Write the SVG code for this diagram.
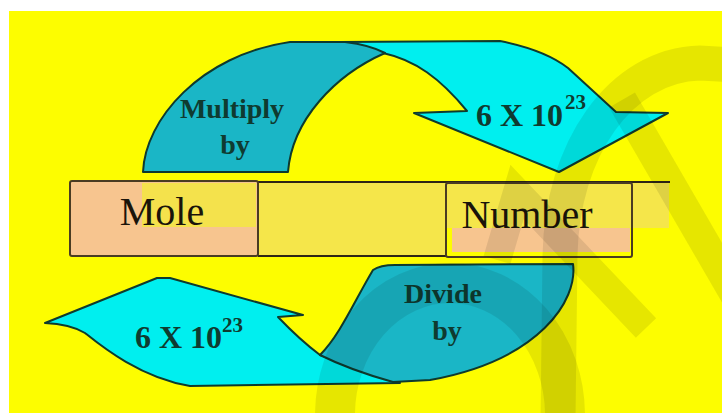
<svg xmlns="http://www.w3.org/2000/svg" width="722" height="413" viewBox="0 0 722 413">
<style>
.lbl{font-family:"Liberation Serif","Times New Roman",serif;font-weight:bold;fill:#0f3b30;}
.box{font-family:"Liberation Serif","Times New Roman",serif;fill:#1a140a;font-size:40px;}
.edge{stroke:#0e3a2e;stroke-width:2;stroke-linejoin:round;}
.wm{fill:none;stroke:#000;stroke-opacity:0.09;}
.line{stroke:#2e2616;stroke-width:2;}
</style>
<rect width="722" height="413" fill="#ffffff"/>
<rect x="9" y="11" width="713" height="402" fill="#fdfd00"/>
<!-- band -->
<rect x="70" y="182" width="380" height="74" fill="#f5e64a"/>
<rect x="446" y="182" width="223" height="46" fill="#f5e64a"/>
<line class="line" x1="258" y1="182" x2="670" y2="182"/>
<line class="line" x1="258" y1="256" x2="446" y2="256"/>
<g id="mole">
<rect x="70" y="181" width="188" height="75" rx="2" fill="#f7c58f"/>
<rect x="142" y="183" width="114" height="44" fill="#f4e24c"/>
<rect x="70" y="181" width="188" height="75" rx="2" fill="none" stroke="#4a3c22" stroke-width="2"/>
<text class="box" x="162" y="225" text-anchor="middle">Mole</text>
</g>
<g id="number">
<rect x="447" y="228" width="184" height="28" fill="#fdfd00"/>
<rect x="452" y="228" width="178" height="24" fill="#f7c58f"/>
<rect x="446" y="183" width="186" height="74" rx="2" fill="none" stroke="#4a3c22" stroke-width="2"/>
<text class="box" x="527" y="228" text-anchor="middle">Number</text>
</g>
<g id="connectors">
<g id="multiply-arrow">
<path class="edge" fill="#00efef" d="M340,42 L500,41 Q545,50 568,68 L616,112 L668,113 L559,172 L414,113 L467,111 C440,78 415,60 383,53 Z"/>
<path class="edge" fill="#1ab6c6" d="M143,172 C145,120 200,55 290,42 L345,42 Q370,45 385,53 C335,75 292,120 288,172 Z"/>
<text class="lbl" x="232" y="118" font-size="28" text-anchor="middle">Multiply</text>
<text class="lbl" x="235" y="154" font-size="28" text-anchor="middle">by</text>
<text class="lbl" x="476" y="126" font-size="32">6 X 10</text>
<text class="lbl" x="565" y="109" font-size="21">23</text>
</g>
<g id="divide-arrow">
<path class="edge" fill="#00efef" d="M45,323 L157,278 L170,278 L303,315 L278,317 Q300,340 320,355 L400,383 L190,386 C140,378 100,345 85,333 Q70,324 45,323 Z"/>
<path class="edge" fill="#1ab6c6" d="M373,270 Q380,265 395,265 L573,264 C578,300 540,360 430,380 L393,382 Q350,370 320,355 C340,335 355,300 373,270 Z"/>
<text class="lbl" x="443" y="303" font-size="28" text-anchor="middle">Divide</text>
<text class="lbl" x="447" y="340" font-size="28" text-anchor="middle">by</text>
<text class="lbl" x="135" y="348" font-size="32">6 X 10</text>
<text class="lbl" x="222" y="332" font-size="21">23</text>
</g>
</g>
<!-- watermark -->
<ellipse class="wm" cx="450" cy="415" rx="115" ry="132" stroke-width="40"/>
<path class="wm" stroke-width="35" d="M558,420 L560,255 C562,150 620,65 700,63 L735,65"/>
<path class="wm" stroke-width="28" stroke-linejoin="miter" d="M497,260 L517,192 L646,328"/>
<path class="wm" stroke-width="30" d="M622,100 L735,295"/>
</svg>
